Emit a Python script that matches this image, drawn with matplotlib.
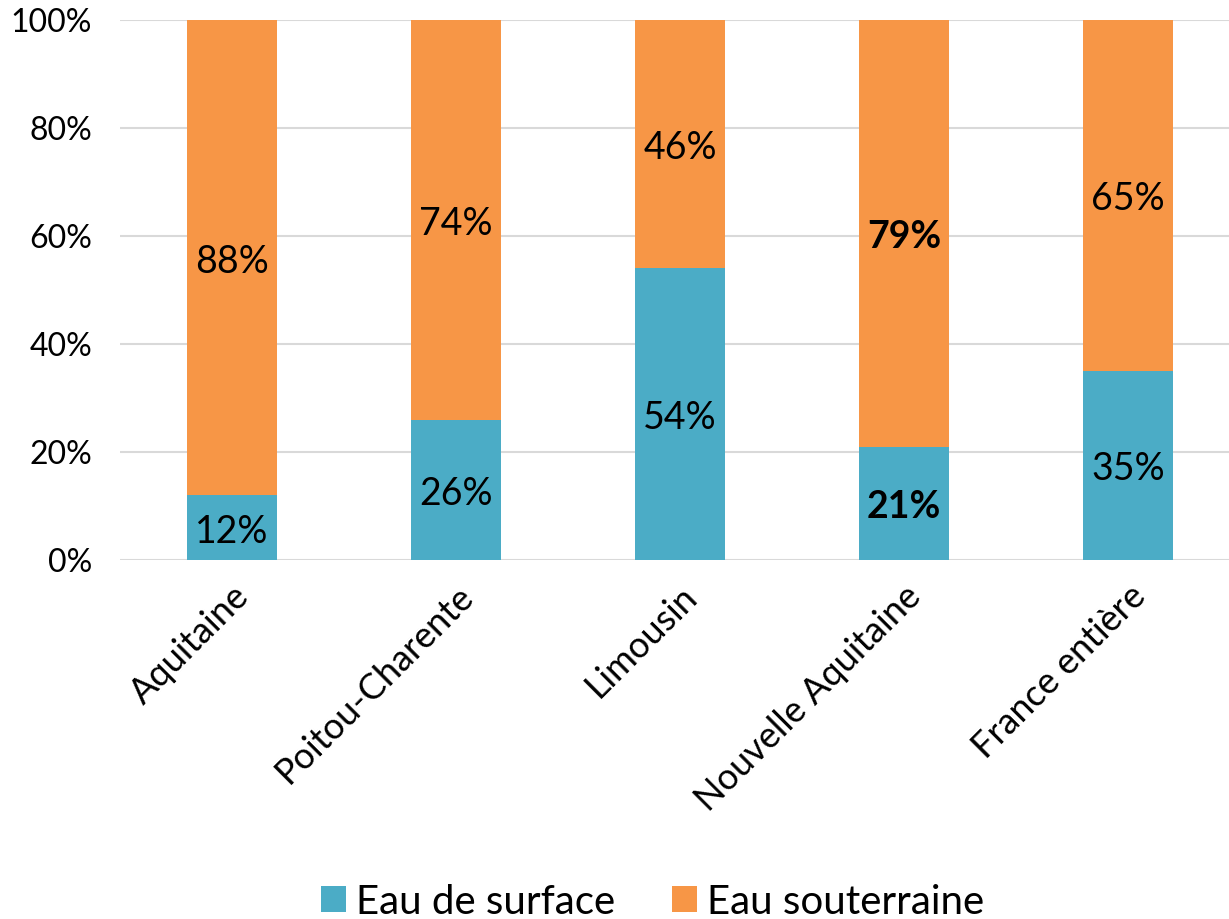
import matplotlib
matplotlib.use("Agg")
import matplotlib.pyplot as plt
from matplotlib.ticker import FuncFormatter
from matplotlib.transforms import offset_copy

categories = ["Aquitaine", "Poitou-Charente", "Limousin", "Nouvelle Aquitaine", "France entière"]
surface = [12, 26, 54, 21, 35]
souterraine = [88, 74, 46, 79, 65]
bold_labels = [False, False, False, True, False]
yticks = [0, 20, 40, 60, 80, 100]

plt.rcParams['font.family'] = ['Lato', 'DejaVu Sans']

c_blue = "#4BACC6"
c_orange = "#F79646"

fig = plt.figure(figsize=(12.29, 9.19), dpi=100)
ax = fig.add_axes([120/1229, 1 - 560/919, 1 - 120/1229, 540/919])

x = list(range(len(categories)))
w = 0.40
b1 = ax.bar(x, surface, w, color=c_blue, label="Eau de surface", zorder=3)
b2 = ax.bar(x, souterraine, w, bottom=surface, color=c_orange, label="Eau souterraine", zorder=3)

lab_tr = offset_copy(ax.transData, fig=fig, x=0, y=-4, units="dots")
for i in x:
    fw = "bold" if bold_labels[i] else "normal"
    ax.text(i, surface[i] / 2, f"{surface[i]}%", ha="center", va="center",
            fontsize=27, fontweight=fw, zorder=4, transform=lab_tr)
    ax.text(i, surface[i] + souterraine[i] / 2, f"{souterraine[i]}%", ha="center", va="center",
            fontsize=27, fontweight=fw, zorder=4, transform=lab_tr)

ax.set_xlim(-0.5, 4.45)
ax.set_ylim(0, 100)
ax.set_yticks(yticks)
ax.yaxis.set_major_formatter(FuncFormatter(lambda v, p: f"{int(v)}%"))
ax.grid(axis="y", color="#D9D9D9", linewidth=1.5, zorder=0)
ax.set_axisbelow(True)
for s in ax.spines.values():
    s.set_visible(False)
ax.tick_params(axis="both", length=0, labelsize=23)
ax.tick_params(axis="y", pad=20)
ax.set_xticks(x)
ax.set_xticklabels(categories, rotation=45, ha="right", rotation_mode="anchor", fontsize=26)
ax.tick_params(axis="x", pad=14)

fig.legend(handles=[b1, b2], labels=["Eau de surface", "Eau souterraine"], loc="center",
           bbox_to_anchor=(0.531, 1 - 902/919), ncol=2, frameon=False, fontsize=29,
           handlelength=0.62, handleheight=0.62, handletextpad=0.25, columnspacing=1.4)

fig.savefig("out.png", dpi=100)
